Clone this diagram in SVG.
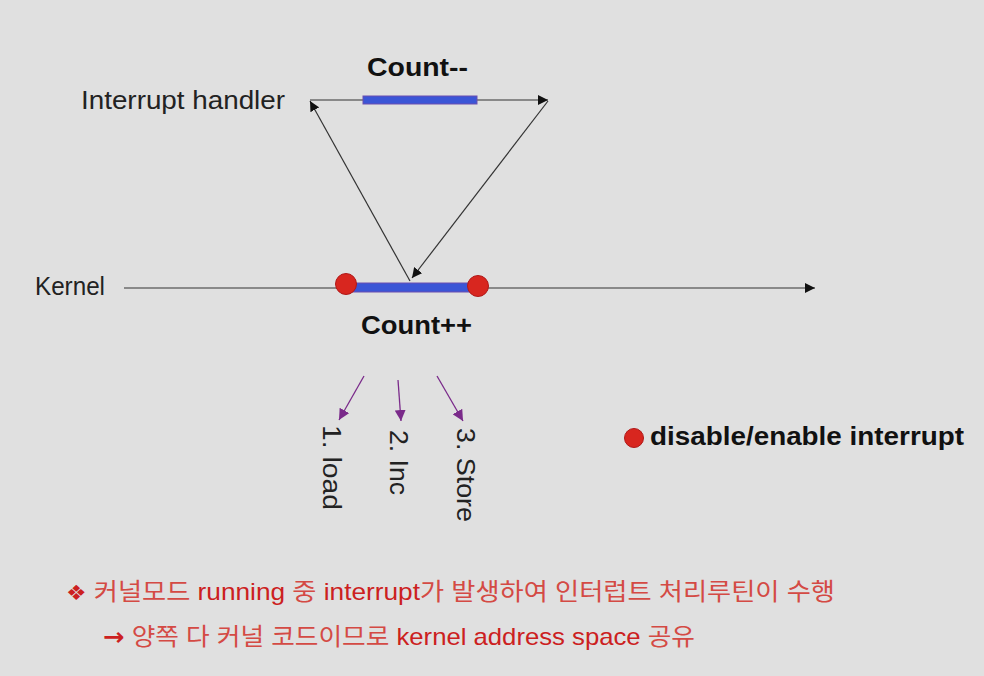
<svg xmlns="http://www.w3.org/2000/svg" width="984" height="676" viewBox="0 0 984 676">
<style>
.lbl{font-family:"Liberation Sans",Arial,sans-serif;font-size:25px;fill:#222}
.bold{font-family:"Liberation Sans",Arial,sans-serif;font-size:25px;font-weight:bold;fill:#111}
.line{stroke:#333;stroke-width:1.2;fill:none}
.pline{stroke:#7a2a8a;stroke-width:1.3;fill:none}
.bar{fill:#3b55d6;stroke:#6a4fb0;stroke-width:1}
.dot{fill:#d8261f;stroke:#b01818;stroke-width:1}
.kr{font-family:"Liberation Sans","Noto Sans CJK KR",sans-serif;font-size:24px;fill:#d44a44}
.en{fill:#cc2020}
</style>
<defs>
<marker id="ah" viewBox="0 0 10 10" refX="10" refY="5" markerWidth="10" markerHeight="10" markerUnits="userSpaceOnUse" orient="auto">
<path d="M0,0 L10,5 L0,10 z" fill="#111"/>
</marker>
<marker id="ahp" viewBox="0 0 10 10" refX="10" refY="5" markerWidth="11" markerHeight="11" markerUnits="userSpaceOnUse" orient="auto">
<path d="M0,0 L10,5 L0,10 z" fill="#7a2a8a"/>
</marker>
</defs>
<rect x="0" y="0" width="984" height="676" fill="#e0e0e0"/>

<g id="connectors">
<line class="line" x1="310" y1="100" x2="548" y2="100" marker-end="url(#ah)"/>
<line class="line" x1="124" y1="288" x2="815" y2="288" marker-end="url(#ah)"/>
<line class="line" x1="410" y1="281" x2="310" y2="101" marker-end="url(#ah)"/>
<line class="line" x1="548" y1="101" x2="412" y2="278" marker-end="url(#ah)"/>
<line class="pline" x1="364" y1="376" x2="339" y2="420" marker-end="url(#ahp)"/>
<line class="pline" x1="398" y1="380" x2="401" y2="421" marker-end="url(#ahp)"/>
<line class="pline" x1="437" y1="376" x2="463" y2="421" marker-end="url(#ahp)"/>
</g>

<g id="interrupt-handler">
<text class="lbl" x="81" y="109" textLength="204" lengthAdjust="spacingAndGlyphs">Interrupt handler</text>
<rect class="bar" x="363" y="96" width="114" height="8"/>
<text class="bold" x="367" y="76" textLength="101" lengthAdjust="spacingAndGlyphs">Count--</text>
</g>

<g id="kernel">
<text class="lbl" x="35" y="295" textLength="70" lengthAdjust="spacingAndGlyphs">Kernel</text>
<rect class="bar" x="350" y="283" width="125" height="9"/>
<circle class="dot" cx="346" cy="284" r="10.5"/>
<circle class="dot" cx="478" cy="286" r="10.5"/>
<text class="bold" x="361" y="334" textLength="111" lengthAdjust="spacingAndGlyphs">Count++</text>
</g>

<g id="steps">
<text class="lbl" transform="translate(323,425) rotate(90)" textLength="85" lengthAdjust="spacingAndGlyphs">1. load</text>
<text class="lbl" transform="translate(390,430) rotate(90)" textLength="65" lengthAdjust="spacingAndGlyphs">2. Inc</text>
<text class="lbl" transform="translate(457,428) rotate(90)" textLength="94" lengthAdjust="spacingAndGlyphs">3. Store</text>
</g>

<g id="legend">
<circle class="dot" cx="634" cy="438" r="9.5"/>
<text class="bold" x="650" y="445" textLength="314" lengthAdjust="spacingAndGlyphs">disable/enable interrupt</text>
</g>

<g id="notes">
<text class="kr" x="66" y="600" textLength="769" lengthAdjust="spacingAndGlyphs"><tspan font-family="DejaVu Sans" font-size="21" class="en">❖</tspan> 커널모드 <tspan class="en">running</tspan> 중 <tspan class="en">interrupt</tspan>가 발생하여 인터럽트 처리루틴이 수행</text>
<text class="kr" x="103" y="645" textLength="592" lengthAdjust="spacingAndGlyphs"><tspan class="en" font-family="DejaVu Sans" font-weight="bold" font-size="24">→</tspan> 양쪽 다 커널 코드이므로 <tspan class="en">kernel address space</tspan> 공유</text>
</g>
</svg>
